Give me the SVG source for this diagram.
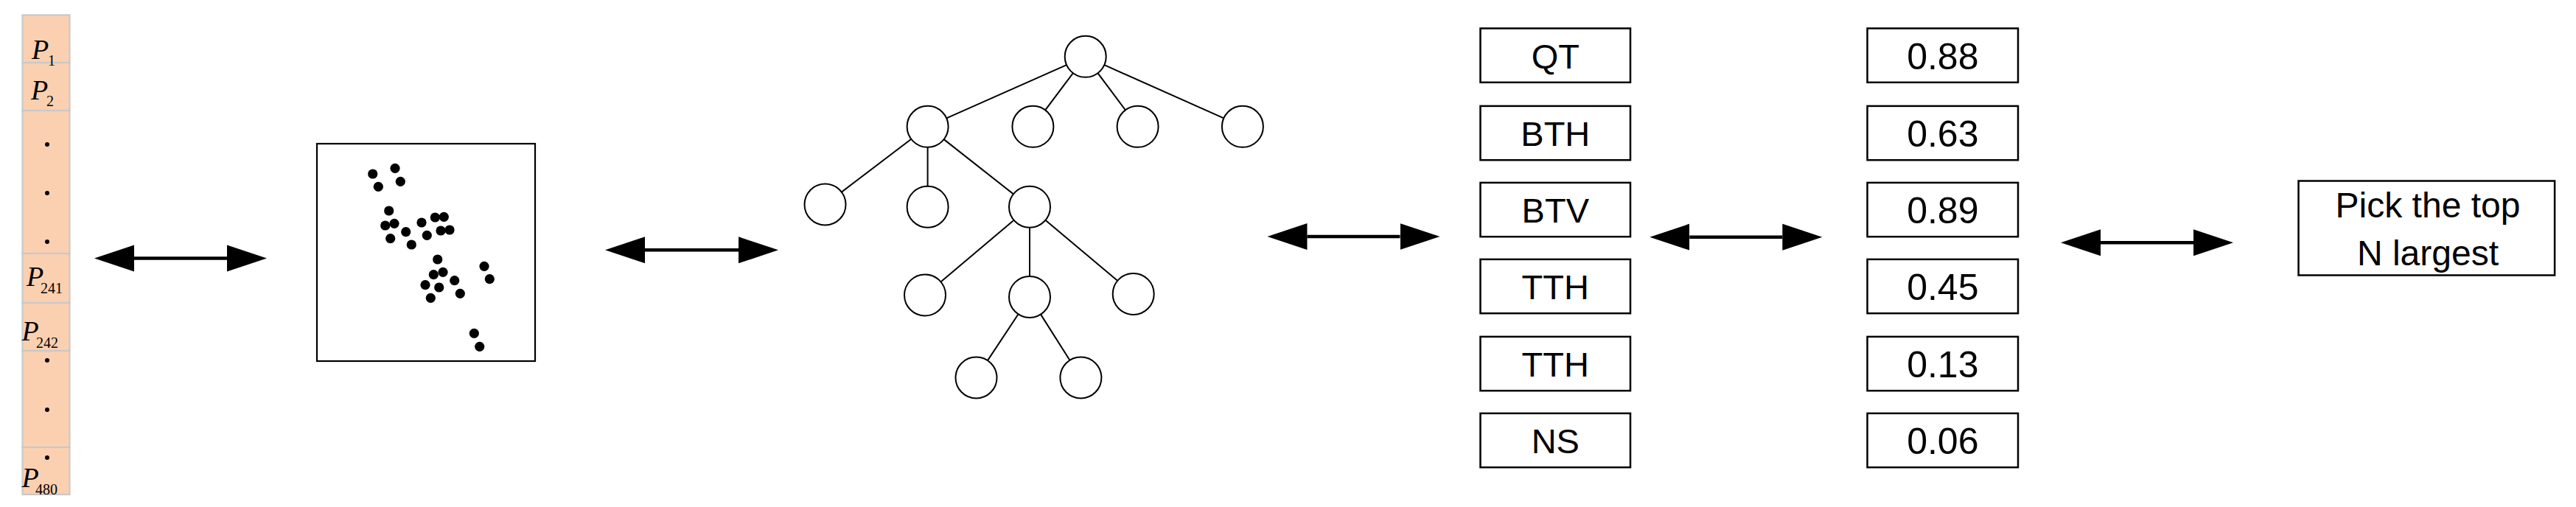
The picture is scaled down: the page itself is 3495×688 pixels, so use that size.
<svg xmlns="http://www.w3.org/2000/svg" width="3495" height="688" viewBox="0 0 3495 688">
<style>
  .cell { fill: #FBD0B0; stroke: #C8C8C8; stroke-width: 2.2; }
  .pv { font-family: "Liberation Serif", "Times New Roman", serif; font-style: italic; font-size: 38px; fill: #000; }
  .sub { font-family: "Liberation Serif", "Times New Roman", serif; font-style: normal; font-size: 20px; fill: #000; }
  .dot { fill: #000; }
  .frame { fill: #fff; stroke: #000; stroke-width: 2.2; }
  .node { fill: #fff; stroke: #000; stroke-width: 2; }
  .edge { stroke: #000; stroke-width: 2; fill: none; }
  .box { fill: #fff; stroke: #000; stroke-width: 2.5; }
  .lbl { font-family: "Liberation Sans", Arial, sans-serif; font-size: 47px; fill: #000; text-anchor: middle; }
  .val { font-family: "Liberation Sans", Arial, sans-serif; font-size: 50px; fill: #000; text-anchor: middle; }
  .pick { font-family: "Liberation Sans", Arial, sans-serif; font-size: 48px; fill: #000; text-anchor: middle; }
  .arrow { stroke: #000; stroke-width: 4.4; fill: none; marker-start: url(#head); marker-end: url(#head); }
</style>
<defs>
  <marker id="head" markerUnits="userSpaceOnUse" markerWidth="55" markerHeight="37" refX="0" refY="18" orient="auto-start-reverse" viewBox="0 0 55 36">
    <path d="M0,0 L54,18 L0,36 Z" fill="#000"/>
  </marker>
</defs>
<rect width="3495" height="688" fill="#fff"/>

<g id="vector-column">
  <rect class="cell" x="30.5" y="20.4" width="64" height="64.6"/>
  <rect class="cell" x="30.5" y="85" width="64" height="65"/>
  <rect class="cell" x="30.5" y="150" width="64" height="194"/>
  <rect class="cell" x="30.5" y="344" width="64" height="67"/>
  <rect class="cell" x="30.5" y="411" width="64" height="65"/>
  <rect class="cell" x="30.5" y="476" width="64" height="131"/>
  <rect class="cell" x="30.5" y="607" width="64" height="64"/>
  <text class="pv" x="43" y="80">P</text><text class="sub" x="65" y="89.3">1</text>
  <text class="pv" x="42" y="135">P</text><text class="sub" x="63" y="144.3">2</text>
  <circle class="dot" cx="64" cy="196" r="3"/>
  <circle class="dot" cx="64" cy="262" r="3"/>
  <circle class="dot" cx="64" cy="328" r="3"/>
  <text class="pv" x="36" y="388">P</text><text class="sub" x="55" y="398">241</text>
  <text class="pv" x="29.5" y="462">P</text><text class="sub" x="49" y="472">242</text>
  <circle class="dot" cx="64" cy="489" r="3"/>
  <circle class="dot" cx="64" cy="556" r="3"/>
  <circle class="dot" cx="64" cy="621" r="3"/>
  <text class="pv" x="29.5" y="661">P</text><text class="sub" x="48" y="670.5">480</text>
</g>

<g id="scatter-plot">
  <rect class="frame" x="430" y="195" width="296" height="295"/>
  <g class="dot">
    <circle cx="505.7" cy="236" r="6.6"/>
    <circle cx="536" cy="228.3" r="6.6"/>
    <circle cx="513.3" cy="253.3" r="6.6"/>
    <circle cx="543.3" cy="246.3" r="6.6"/>
    <circle cx="527.7" cy="286" r="6.6"/>
    <circle cx="522.7" cy="306" r="6.6"/>
    <circle cx="535" cy="303.3" r="6.6"/>
    <circle cx="529.7" cy="323.7" r="6.6"/>
    <circle cx="550.7" cy="314.7" r="6.6"/>
    <circle cx="558.3" cy="332" r="6.6"/>
    <circle cx="572" cy="302" r="6.6"/>
    <circle cx="579.3" cy="319.3" r="6.6"/>
    <circle cx="590.3" cy="295" r="6.6"/>
    <circle cx="602.3" cy="294.3" r="6.6"/>
    <circle cx="598" cy="313" r="6.6"/>
    <circle cx="610" cy="312" r="6.6"/>
    <circle cx="593.7" cy="352" r="6.6"/>
    <circle cx="588.3" cy="372.7" r="6.6"/>
    <circle cx="601" cy="369.3" r="6.6"/>
    <circle cx="577" cy="386.7" r="6.6"/>
    <circle cx="595.7" cy="390" r="6.6"/>
    <circle cx="584.3" cy="404.3" r="6.6"/>
    <circle cx="616.7" cy="380.7" r="6.6"/>
    <circle cx="624.3" cy="398.3" r="6.6"/>
    <circle cx="657" cy="361.3" r="6.6"/>
    <circle cx="664.3" cy="378.7" r="6.6"/>
    <circle cx="643.3" cy="452.3" r="6.6"/>
    <circle cx="650.7" cy="470.3" r="6.6"/>
  </g>
</g>

<g id="tree">
  <g id="tree-edges">
    <line class="edge" x1="1447.1" y1="88.2" x2="1284.2" y2="160.4"/>
    <line class="edge" x1="1455.9" y1="99.2" x2="1418.2" y2="149.4"/>
    <line class="edge" x1="1489.4" y1="99.2" x2="1526.9" y2="149.4"/>
    <line class="edge" x1="1498.3" y1="88.2" x2="1660.3" y2="160.4"/>
    <line class="edge" x1="1236.3" y1="188.7" x2="1141.8" y2="260.6"/>
    <line class="edge" x1="1258.6" y1="199.8" x2="1258.6" y2="252.7"/>
    <line class="edge" x1="1280.6" y1="189.1" x2="1375" y2="263.4"/>
    <line class="edge" x1="1375.6" y1="298.7" x2="1276.4" y2="382.4"/>
    <line class="edge" x1="1397" y1="308.7" x2="1397" y2="374.9"/>
    <line class="edge" x1="1418.4" y1="298.7" x2="1516.3" y2="380.9"/>
    <line class="edge" x1="1381.6" y1="426.3" x2="1340" y2="489.1"/>
    <line class="edge" x1="1412" y1="426.6" x2="1451.4" y2="488.8"/>
  </g>
  <circle id="t-root" class="node" cx="1472.7" cy="76.8" r="28"/>
  <circle id="t-a" class="node" cx="1258.6" cy="171.8" r="28"/>
  <circle id="t-b" class="node" cx="1401.4" cy="171.8" r="28"/>
  <circle id="t-c" class="node" cx="1543.6" cy="171.8" r="28"/>
  <circle id="t-d" class="node" cx="1685.9" cy="171.8" r="28"/>
  <circle id="t-e" class="node" cx="1119.5" cy="277.5" r="28"/>
  <circle id="t-f" class="node" cx="1258.6" cy="280.7" r="28"/>
  <circle id="t-g" class="node" cx="1397" cy="280.7" r="28"/>
  <circle id="t-h" class="node" cx="1255" cy="400.4" r="28"/>
  <circle id="t-i" class="node" cx="1397" cy="402.9" r="28"/>
  <circle id="t-j" class="node" cx="1537.7" cy="398.9" r="28"/>
  <circle id="t-k" class="node" cx="1324.5" cy="512.5" r="28"/>
  <circle id="t-l" class="node" cx="1466.4" cy="512.5" r="28"/>
</g>

<g id="labels">
  <g id="lbl-qt"><rect class="box" x="2008.5" y="38.5" width="203.5" height="73.3"/><text class="lbl" x="2110.3" y="93.3">QT</text></g>
  <g id="lbl-bth"><rect class="box" x="2008.5" y="143.9" width="203.5" height="73.3"/><text class="lbl" x="2110.3" y="197.7">BTH</text></g>
  <g id="lbl-btv"><rect class="box" x="2008.5" y="247.9" width="203.5" height="73.3"/><text class="lbl" x="2110.3" y="301.7">BTV</text></g>
  <g id="lbl-tth1"><rect class="box" x="2008.5" y="351.9" width="203.5" height="73.3"/><text class="lbl" x="2110.3" y="405.7">TTH</text></g>
  <g id="lbl-tth2"><rect class="box" x="2008.5" y="456.9" width="203.5" height="73.3"/><text class="lbl" x="2110.3" y="510.7">TTH</text></g>
  <g id="lbl-ns"><rect class="box" x="2008.5" y="560.9" width="203.5" height="73.3"/><text class="lbl" x="2110.3" y="614.7">NS</text></g>
</g>

<g id="values">
  <g id="val-1"><rect class="box" x="2533.5" y="38.5" width="204.5" height="73.3"/><text class="val" x="2635.8" y="94.3">0.88</text></g>
  <g id="val-2"><rect class="box" x="2533.5" y="143.9" width="204.5" height="73.3"/><text class="val" x="2635.8" y="198.7">0.63</text></g>
  <g id="val-3"><rect class="box" x="2533.5" y="247.9" width="204.5" height="73.3"/><text class="val" x="2635.8" y="302.7">0.89</text></g>
  <g id="val-4"><rect class="box" x="2533.5" y="351.9" width="204.5" height="73.3"/><text class="val" x="2635.8" y="406.7">0.45</text></g>
  <g id="val-5"><rect class="box" x="2533.5" y="456.9" width="204.5" height="73.3"/><text class="val" x="2635.8" y="511.7">0.13</text></g>
  <g id="val-6"><rect class="box" x="2533.5" y="560.9" width="204.5" height="73.3"/><text class="val" x="2635.8" y="615.7">0.06</text></g>
</g>

<g id="pick-top">
  <rect class="box" x="3118.5" y="245.5" width="347.6" height="128"/>
  <text class="pick" x="3294" y="295">Pick the top</text>
  <text class="pick" x="3294" y="360">N largest</text>
</g>

<g id="connectors">
  <line class="arrow" x1="182" y1="350.5" x2="308" y2="350.5"/>
  <line class="arrow" x1="875" y1="339.3" x2="1002" y2="339.3"/>
  <line class="arrow" x1="1773.5" y1="321" x2="1899.5" y2="321"/>
  <line class="arrow" x1="2292.3" y1="321.7" x2="2418.3" y2="321.7"/>
  <line class="arrow" x1="2850" y1="329.3" x2="2976" y2="329.3"/>
</g>
</svg>
